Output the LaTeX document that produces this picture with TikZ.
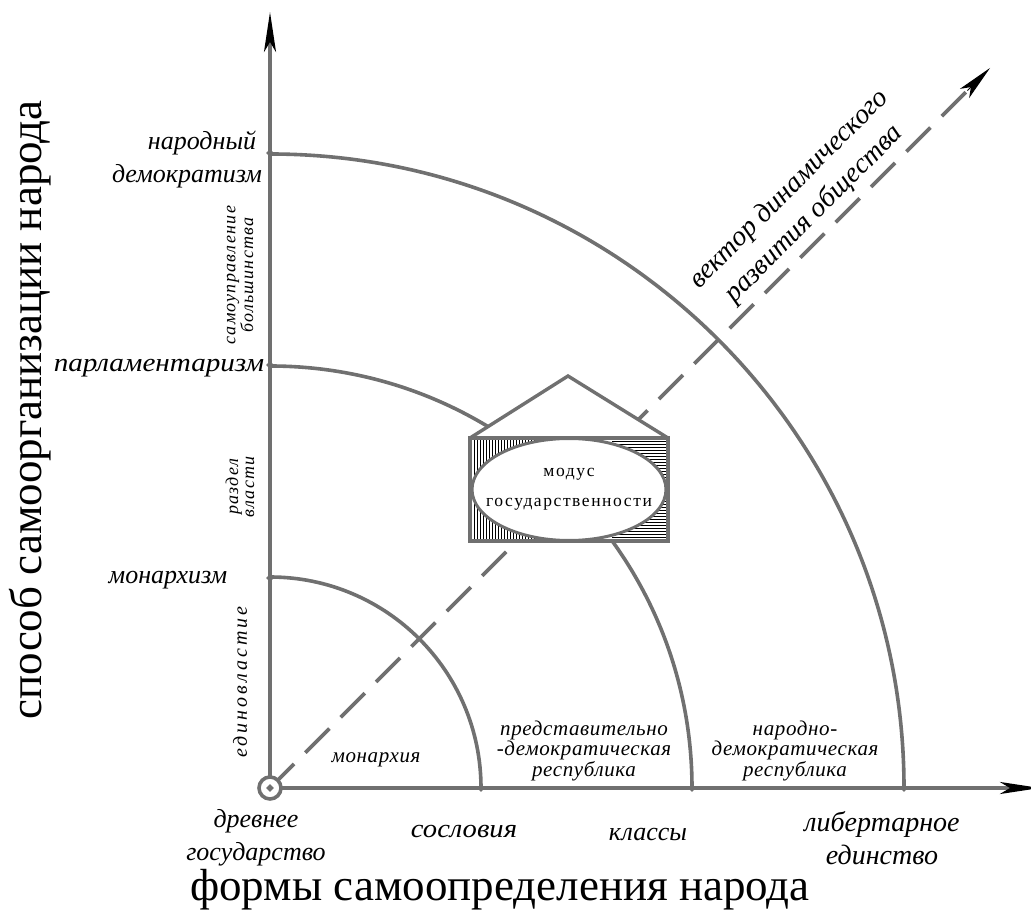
\documentclass[tikz,border=0pt]{standalone}
\usepackage{fontspec}
\setmainfont{Liberation Serif}
\usetikzlibrary{arrows.meta,calc,shapes.geometric}
\definecolor{lgray}{RGB}{112,112,112}
\begin{document}
\begin{tikzpicture}[x=1pt,y=1pt,
  ln/.style={draw=lgray, line width=3.6pt},
  axarrow/.style={-{Stealth[length=40pt,width=12pt,inset=10pt,black]}},
  dia/.style={fill=lgray, draw=none, minimum size=8pt, inner sep=0pt, shape=diamond},
  big/.style={font=\fontsize{26}{33}\selectfont\itshape, align=center, inner sep=0pt},
  small/.style={font=\fontsize{21}{18.5}\selectfont\itshape\addfontfeature{LetterSpace=3}, align=center, inner sep=0pt},
  rot/.style={font=\fontsize{18}{16}\selectfont\itshape\addfontfeature{LetterSpace=7}, align=center, inner sep=0pt, rotate=90},
  huge/.style={font=\fontsize{45}{46}\selectfont, inner sep=0pt},
]
\useasboundingbox (0,0) rectangle (1031,911);
\coordinate (O) at (270,123);
\coordinate (ytop) at (270,899);
\coordinate (xend) at (1040,123);
\coordinate (vend) at (990,843);
% arcs
\draw[ln] (481,123) arc[start angle=0,end angle=90,radius=211];
\draw[ln] (692,123) arc[start angle=0,end angle=90,radius=422];
\draw[ln] (904,123) arc[start angle=0,end angle=90,radius=634];
% dashed vector
\draw[lgray, line width=3.6pt, dash pattern=on 34pt off 16pt, shorten >=30pt] (O) -- (vend);
\coordinate (vbase) at ($(vend)!32pt!(O)$);
\draw[line width=1pt, -{Stealth[length=36pt,width=13pt,inset=9pt,black]}] (vbase) -- (vend);
% axes
\draw[ln, axarrow] (O) -- (ytop);
\draw[ln, axarrow] (O) -- (xend);
% house
\coordinate (apex) at (568,535);
\fill[white] (470,370) -- (668,370) -- (668,473) -- (apex) -- (470,473) -- cycle;
\begin{scope}
\clip (470,370) rectangle (556,473);
\foreach \x in {471,474,...,556} \draw[black, line width=0.9pt] (\x,370) -- (\x,473);
\end{scope}
\begin{scope}
\clip (612,370) rectangle (668,473);
\foreach \y in {371,374,...,473} \draw[black, line width=0.9pt] (612,\y) -- (668,\y);
\end{scope}
\draw[lgray, line width=3pt, fill=white] (569,421.5) ellipse[x radius=97, y radius=51];
\draw[lgray, line width=3.4pt] (470,370) rectangle (668,473);
\draw[lgray, line width=3.4pt] (470,473) -- (apex) -- (668,473);
\node (modus) at (569,421.5) [font=\fontsize{17.5}{30}\selectfont\addfontfeature{LetterSpace=9}, align=center, inner sep=0pt] {модус\\государственности};
% origin
\draw[lgray, line width=3.6pt, fill=white] (O) circle[radius=11];
\node[dia] (o0) at (O) {};
% diamonds
\node[dia] (y1) at (270,333) {};
\node[dia] (y2) at (270,546) {};
\node[dia] (y3) at (270,758) {};
\node[dia] (x1) at (481,123) {};
\node[dia] (x2) at (692,123) {};
\node[dia] (x3) at (904,123) {};
% labels
\node[big] (l1a) at (202,768) {народный};
\node[big] (l1b) at (187,735) {демократизм};
\node[big] (l2) at (159,543) {\scalebox{1.12}[1]{парламентаризм}};
\node[big] (l3) at (168,331) {монархизм};
\node[rot] (r1) at (240,636) {самоуправление\\большинства};
\node[rot] (r2) at (240,424) {раздел\\власти};
\node[rot, font=\fontsize{20}{16}\selectfont\itshape\addfontfeature{LetterSpace=15}] (r3) at (240,229) {единовластие};
\node[big] (b0) at (256,73) {древнее\\государство};
\node[big] (b1) at (464,79) {\scalebox{1.1}[1]{сословия}};
\node[big] (b2) at (648,76) {классы};
\node[big, font=\fontsize{28}{33}\selectfont\itshape] (b3) at (882,73) {либертарное\\единство};
\node[small] (i1) at (376,151) {монархия};
\node[small] (i2) at (584,160) {представительно\\-демократическая\\республика};
\node[small] (i3) at (795,160) {народно-\\демократическая\\республика};
\node[huge, anchor=base] (xl) at (500,11) {формы самоопределения народа};
\node[huge, rotate=90] (yl) at (30,501) {способ самоорганизации народа};
\node[big, rotate=45, font=\fontsize{28}{35}\selectfont\itshape] (vl) at (802,709) {вектор динамического\\развития общества};
\end{tikzpicture}
\end{document}
